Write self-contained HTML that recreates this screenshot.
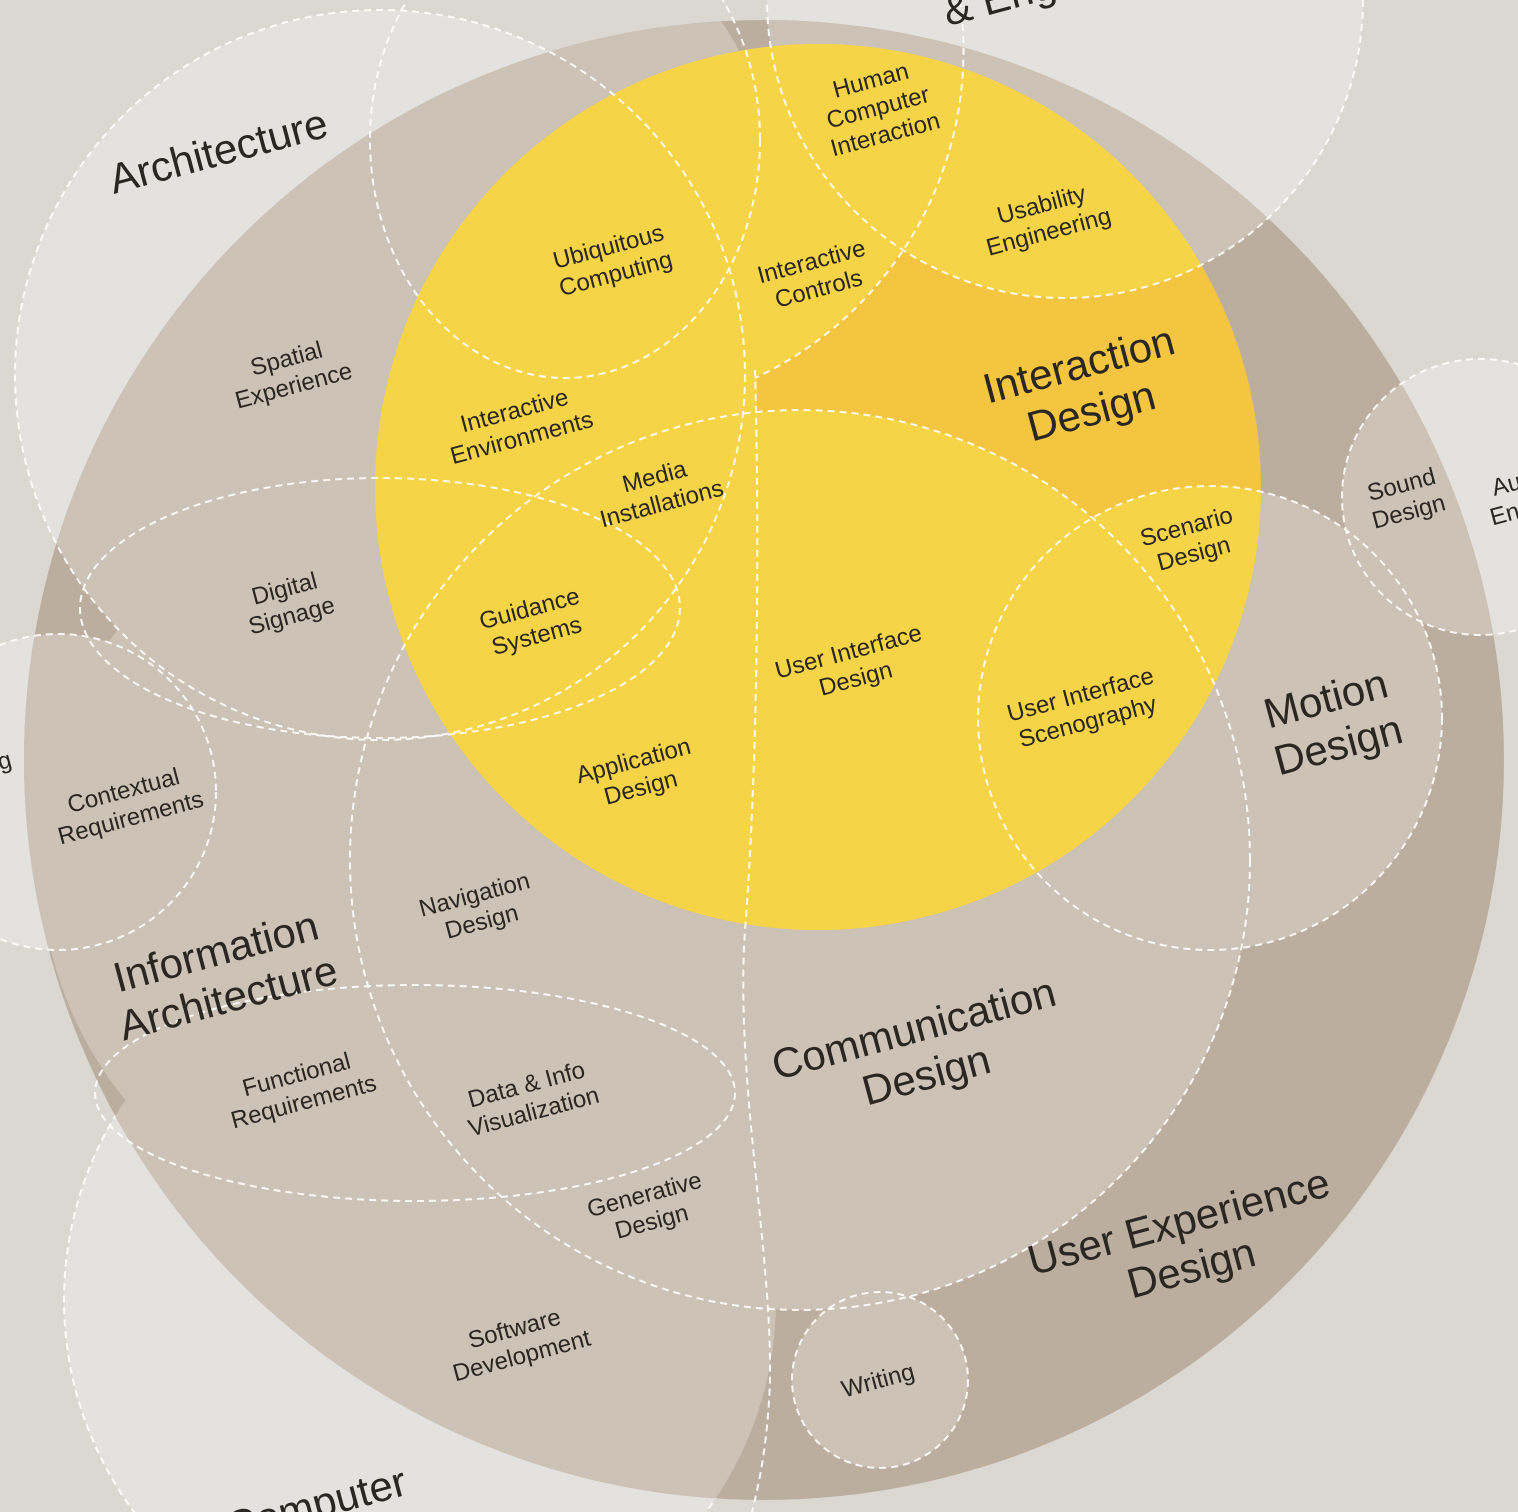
<!DOCTYPE html>
<html><head><meta charset="utf-8"><style>
html,body{margin:0;padding:0;background:#dbd8d2;overflow:hidden;}
svg{display:block;}
text{font-family:"Liberation Sans",sans-serif;fill:#2a2622;}
</style></head><body>
<svg width="1518" height="1512" viewBox="0 0 1518 1512" xmlns="http://www.w3.org/2000/svg">
<defs>
<clipPath id="big"><circle cx="764" cy="760" r="740"/></clipPath>
<clipPath id="yel"><circle cx="818" cy="487" r="443"/></clipPath>
<clipPath id="outside"><path clip-rule="evenodd" d="M0 0H1518V1512H0Z M24 760 A740 740 0 1 0 1504 760 A740 740 0 1 0 24 760Z"/></clipPath>
</defs>
<rect width="1518" height="1512" fill="#dbd8d2"/>
<g fill="#e4e2de">
<circle cx="380" cy="375" r="365"/>
<circle cx="1065" cy="0" r="298"/>
<circle cx="1480" cy="497" r="138"/>
<circle cx="58" cy="792" r="158"/>
<circle cx="420" cy="1300" r="356"/>
</g>
<circle cx="764" cy="760" r="740" fill="#bcae9f"/>
<g clip-path="url(#big)" fill="#cdc2b6">
<circle cx="380" cy="375" r="365"/>
<circle cx="1065" cy="0" r="298"/>
<circle cx="1480" cy="497" r="138"/>
<circle cx="1210" cy="718" r="232"/>
<circle cx="800" cy="860" r="450"/>
<circle cx="880" cy="1380" r="88"/>
<circle cx="420" cy="1300" r="356"/>
<circle cx="420" cy="860" r="380"/>
<circle cx="58" cy="792" r="158"/>
<circle cx="560" cy="140" r="200"/>
</g>
<circle cx="818" cy="487" r="443" fill="#f3c540"/>
<g clip-path="url(#yel)" fill="#f5d547">
<circle cx="1065" cy="0" r="298"/>
<circle cx="600" cy="50" r="362"/>
<circle cx="800" cy="860" r="450"/>
<circle cx="1210" cy="718" r="232"/>
<rect x="370" y="0" width="387" height="1000"/>
</g>
<g fill="none" stroke="#ffffff" stroke-width="2" stroke-dasharray="7 5" opacity="0.9">
<circle cx="380" cy="375" r="365"/>
<ellipse cx="565" cy="140" rx="195" ry="238"/>
<circle cx="1065" cy="0" r="298"/>
<path d="M960 0 A362 362 0 0 1 755 378"/>
<path d="M755 370 C760 550 757 780 745 930 C735 1080 772 1250 770 1380 C768 1440 760 1480 752 1512"/>
<circle cx="1480" cy="497" r="138"/>
<circle cx="1210" cy="718" r="232"/>
<circle cx="800" cy="860" r="450"/>
<ellipse cx="380" cy="608" rx="300" ry="130"/>
<circle cx="58" cy="792" r="158"/>
<ellipse cx="415" cy="1093" rx="320" ry="108"/>
<circle cx="420" cy="1300" r="356" clip-path="url(#outside)"/>
<circle cx="880" cy="1380" r="88"/>
</g>
<g font-size="24" text-anchor="middle">
<text transform="translate(880,115) rotate(-15)"><tspan x="0" y="-28">Human</tspan><tspan x="0" y="0">Computer</tspan><tspan x="0" y="28">Interaction</tspan></text>
<text transform="translate(1045,218) rotate(-15)"><tspan x="0" y="-6">Usability</tspan><tspan x="0" y="22">Engineering</tspan></text>
<text transform="translate(612,260) rotate(-15)"><tspan x="0" y="-6">Ubiquitous</tspan><tspan x="0" y="22">Computing</tspan></text>
<text transform="translate(815,275) rotate(-15)"><tspan x="0" y="-6">Interactive</tspan><tspan x="0" y="22">Controls</tspan></text>
<text transform="translate(290,372) rotate(-15)"><tspan x="0" y="-6">Spatial</tspan><tspan x="0" y="22">Experience</tspan></text>
<text transform="translate(518,424) rotate(-15)"><tspan x="0" y="-6">Interactive</tspan><tspan x="0" y="22">Environments</tspan></text>
<text transform="translate(658,490) rotate(-15)"><tspan x="0" y="-6">Media</tspan><tspan x="0" y="22">Installations</tspan></text>
<text transform="translate(1190,540) rotate(-15)"><tspan x="0" y="-6">Scenario</tspan><tspan x="0" y="22">Design</tspan></text>
<text transform="translate(1405,498) rotate(-15)"><tspan x="0" y="-6">Sound</tspan><tspan x="0" y="22">Design</tspan></text>
<text transform="translate(288,602) rotate(-15)"><tspan x="0" y="-6">Digital</tspan><tspan x="0" y="22">Signage</tspan></text>
<text transform="translate(533,622) rotate(-15)"><tspan x="0" y="-6">Guidance</tspan><tspan x="0" y="22">Systems</tspan></text>
<text transform="translate(852,665) rotate(-15)"><tspan x="0" y="-6">User Interface</tspan><tspan x="0" y="22">Design</tspan></text>
<text transform="translate(1084,708) rotate(-15)"><tspan x="0" y="-6">User Interface</tspan><tspan x="0" y="22">Scenography</tspan></text>
<text transform="translate(637,774) rotate(-15)"><tspan x="0" y="-6">Application</tspan><tspan x="0" y="22">Design</tspan></text>
<text transform="translate(127,804) rotate(-15)"><tspan x="0" y="-6">Contextual</tspan><tspan x="0" y="22">Requirements</tspan></text>
<text transform="translate(478,908) rotate(-15)"><tspan x="0" y="-6">Navigation</tspan><tspan x="0" y="22">Design</tspan></text>
<text transform="translate(300,1088) rotate(-15)"><tspan x="0" y="-6">Functional</tspan><tspan x="0" y="22">Requirements</tspan></text>
<text transform="translate(530,1098) rotate(-15)"><tspan x="0" y="-6">Data &amp; Info</tspan><tspan x="0" y="22">Visualization</tspan></text>
<text transform="translate(648,1208) rotate(-15)"><tspan x="0" y="-6">Generative</tspan><tspan x="0" y="22">Design</tspan></text>
<text transform="translate(518,1342) rotate(-15)"><tspan x="0" y="-6">Software</tspan><tspan x="0" y="22">Development</tspan></text>
<text transform="translate(880,1388) rotate(-15)">Writing</text>
<text transform="translate(1510,498) rotate(-15)"><tspan x="0" y="-6">Au</tspan><tspan x="0" y="22">Engi</tspan></text>
<text transform="translate(0,770) rotate(-15)">ng</text>
</g>
<g font-size="42" text-anchor="middle">
<text transform="translate(222,165) rotate(-15)">Architecture</text>
<text transform="translate(1085,388) rotate(-15)"><tspan x="0" y="-10">Interaction</tspan><tspan x="0" y="38">Design</tspan></text>
<text transform="translate(1332,722) rotate(-15)"><tspan x="0" y="-10">Motion</tspan><tspan x="0" y="38">Design</tspan></text>
<text transform="translate(222,975) rotate(-15)"><tspan x="0" y="-10">Information</tspan><tspan x="0" y="38">Architecture</tspan></text>
<text transform="translate(920,1052) rotate(-15)"><tspan x="0" y="-10">Communication</tspan><tspan x="0" y="38">Design</tspan></text>
<text transform="translate(1185,1245) rotate(-15)"><tspan x="0" y="-10">User Experience</tspan><tspan x="0" y="38">Design</tspan></text>
<text transform="translate(320,1518) rotate(-15)">Computer</text>
<text transform="translate(1075,-8) rotate(-15)">&amp; Engineering</text>
</g>
</svg>
</body></html>
